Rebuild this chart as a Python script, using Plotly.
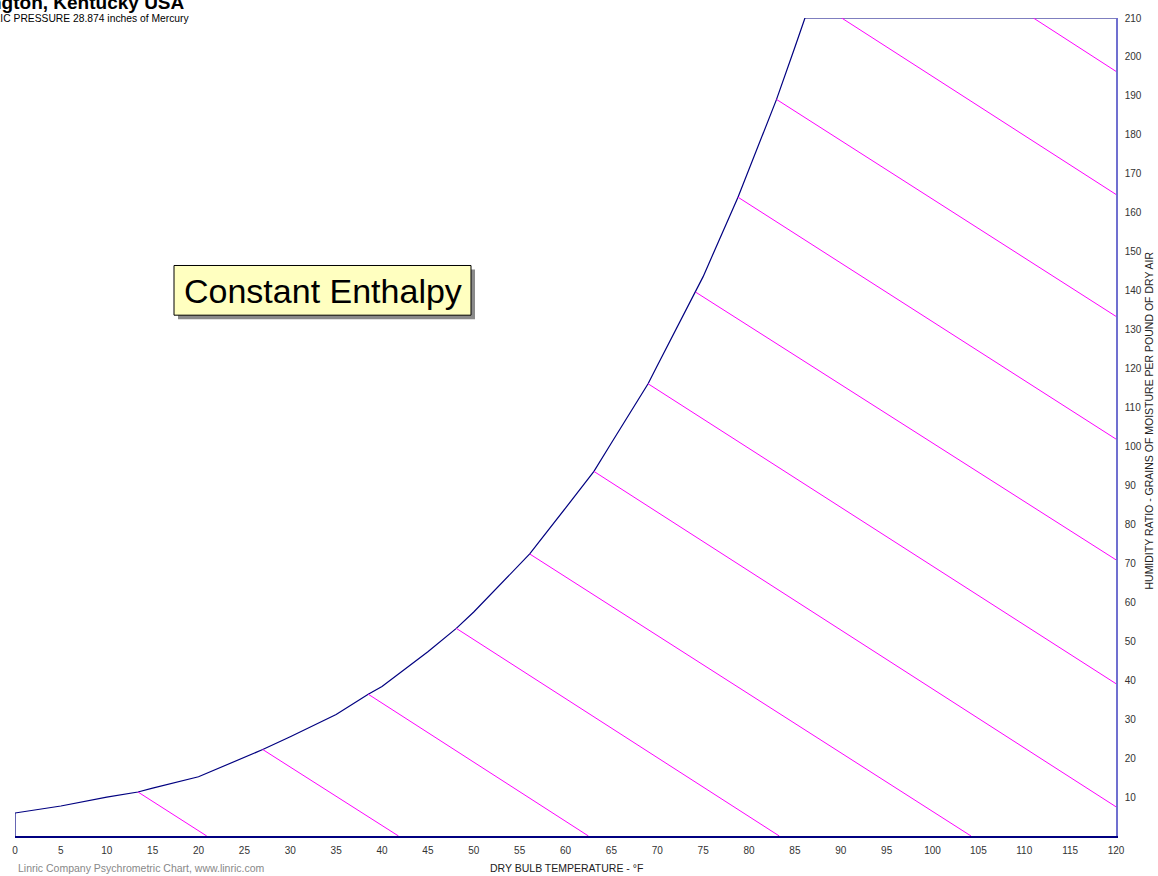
import plotly.graph_objects as go

# ---- data ----
# saturation curve (dry bulb °F, humidity ratio grains/lb)
sat_t = [0, 5, 10, 13.4, 15, 20, 25, 27.0, 30, 35, 38.5, 40, 45, 48.1, 50, 55, 56.1, 60,
         63.1, 65, 69.0, 70, 74.2, 75, 78.8, 80, 83.0, 85, 86.1]
sat_w = [5.9, 7.7, 10.0, 11.3, 12.3, 15.2, 20.2, 22.2, 25.5, 31.2, 36.4, 38.4, 47.3, 53.3,
         57.5, 69.6, 72.4, 84.2, 93.6, 100.9, 116.1, 120.7, 139.6, 143.6, 164.0, 171.2,
         189.1, 202.5, 210.0]

# constant enthalpy lines (Btu/lb) : start/end points
enth = [5, 10, 15, 20, 25, 30, 35, 40, 45, 50, 55, 60]
enth_t0 = [13.4, 27.0, 38.5, 48.1, 56.1, 63.1, 69.0, 74.2, 78.8, 83.0, 90.1, 111.0]
enth_w0 = [11.3, 22.2, 36.4, 53.3, 72.4, 93.6, 116.1, 139.6, 164.0, 189.1, 210.0, 210.0]
enth_t1 = [20.9, 41.8, 62.5, 83.3, 104.2, 120, 120, 120, 120, 120, 120, 120]
enth_w1 = [0, 0, 0, 0, 0, 7.5, 39.1, 70.9, 101.9, 133.4, 164.7, 196.3]

x_ticks = list(range(0, 121, 5))
y_ticks = list(range(10, 211, 10))

X_MAX = 120
Y_MAX = 210

W, H = 1158, 876
ML, MR, MT, MB = 15, 42, 13, 40
PW, PH = W - ML - MR, H - MT - MB


def px(xp):
    return (xp - ML) / PW


def py(yp):
    return (H - MB - yp) / PH


FONT = "Arial, Liberation Sans, sans-serif"

fig = go.Figure()

# boundary: left edge at 0°F, saturation curve, top edge at 210 grains
bx = [0] + sat_t + [X_MAX]
by = [0] + sat_w + [Y_MAX]
fig.add_trace(go.Scatter(x=bx, y=by, mode="lines",
                         line=dict(color="#000080", width=1.2),
                         hoverinfo="skip", showlegend=False))

for h, t0, w0, t1, w1 in zip(enth, enth_t0, enth_w0, enth_t1, enth_w1):
    fig.add_trace(go.Scatter(x=[t0, t1], y=[w0, w1], mode="lines",
                             line=dict(color="#ff00ff", width=1),
                             name=f"h={h}", hoverinfo="skip", showlegend=False))

# label box with shadow
bx0, bx1, by0, by1 = 174, 471, 262, 312
fig.add_shape(type="rect", xref="paper", yref="paper",
              x0=px(bx0 + 4), x1=px(bx1 + 4), y0=py(by1 + 4), y1=py(by0 + 4),
              fillcolor="#8a8a8a", line=dict(width=0), layer="above")
fig.add_shape(type="rect", xref="paper", yref="paper",
              x0=px(bx0), x1=px(bx1), y0=py(by1), y1=py(by0),
              fillcolor="#ffffc0", line=dict(color="black", width=1), layer="above")

annotations = [
    dict(text="Constant Enthalpy", x=px((bx0 + bx1) / 2), y=py((by0 + by1) / 2 + 1),
         xref="paper", yref="paper", showarrow=False, xanchor="center", yanchor="middle",
         font=dict(family=FONT, size=34, color="black")),
    dict(text="<b>Lexington, Kentucky USA</b>", x=px(187), y=py(-3), xref="paper", yref="paper",
         showarrow=False, xanchor="right", yanchor="middle",
         font=dict(family=FONT, size=19, color="black")),
    dict(text="BAROMETRIC PRESSURE 28.874 inches of Mercury", x=px(190.5), y=py(13),
         xref="paper", yref="paper", showarrow=False, xanchor="right", yanchor="middle",
         font=dict(family=FONT, size=10.3, color="black")),
    dict(text="HUMIDITY RATIO - GRAINS OF MOISTURE PER POUND OF DRY AIR", x=px(1149), y=py(418),
         xref="paper", yref="paper", showarrow=False, xanchor="center", yanchor="middle",
         textangle=-90, font=dict(family=FONT, size=10.5, color="#222222")),
    dict(text="DRY BULB TEMPERATURE - °F", x=px(566), y=py(868),
         xref="paper", yref="paper", showarrow=False, xanchor="center", yanchor="middle",
         font=dict(family=FONT, size=10.5, color="#222222")),
    dict(text="Linric Company Psychrometric Chart, www.linric.com", x=px(16), y=py(868),
         xref="paper", yref="paper", showarrow=False, xanchor="left", yanchor="middle",
         font=dict(family=FONT, size=10.5, color="#888888")),
]

fig.update_layout(
    width=W, height=H,
    margin=dict(l=ML, r=MR, t=MT, b=MB, pad=0),
    paper_bgcolor="white", plot_bgcolor="white",
    showlegend=False,
    annotations=annotations,
    xaxis=dict(range=[0, X_MAX], tickvals=x_ticks, ticktext=[str(v) for v in x_ticks],
               showgrid=False, zeroline=False, showline=True, linecolor="#000080",
               linewidth=1.5, ticks="outside", ticklen=4, tickcolor="rgba(0,0,0,0)",
               tickfont=dict(family=FONT, size=10, color="#333333")),
    yaxis=dict(range=[0, Y_MAX], side="right", tickvals=y_ticks,
               ticktext=[str(v) for v in y_ticks],
               showgrid=False, zeroline=False, showline=True, linecolor="#7070d0",
               linewidth=1.5, ticks="outside", ticklen=5, tickcolor="rgba(0,0,0,0)",
               tickfont=dict(family=FONT, size=10, color="#333333")),
)

fig.write_html("out.html", config={"displayModeBar": False},
               post_script="document.body.style.margin='0px';")
